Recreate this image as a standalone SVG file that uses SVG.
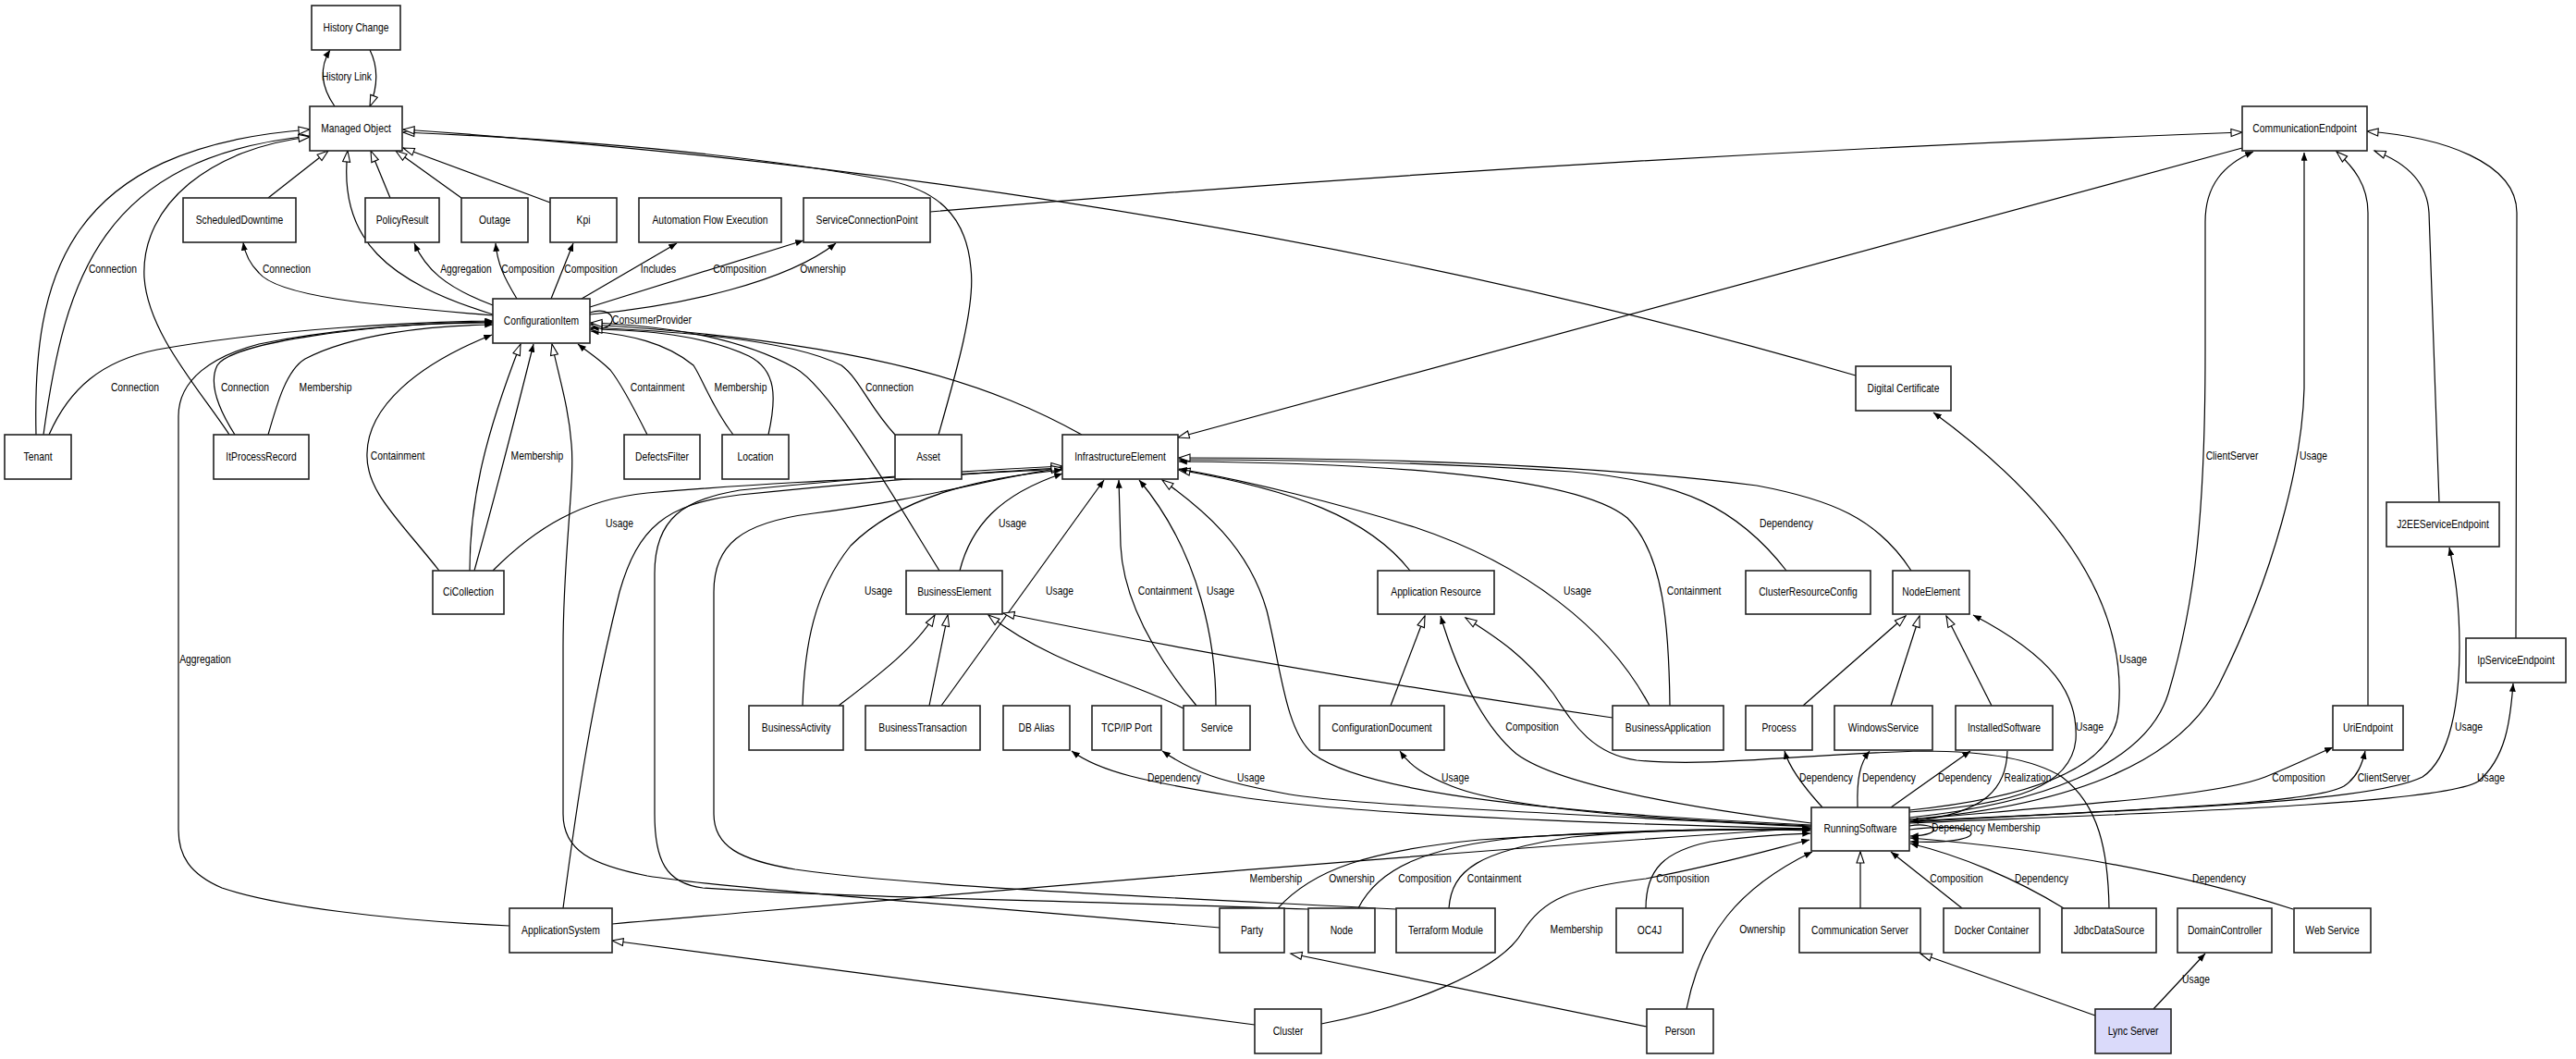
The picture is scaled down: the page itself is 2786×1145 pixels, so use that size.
<svg xmlns="http://www.w3.org/2000/svg" width="2786" height="1145" viewBox="0 0 2786 1145">
<style>
.e{fill:none;stroke:#000;stroke-width:1.2;marker-end:url(#af)}
.g{fill:none;stroke:#000;stroke-width:1.2;marker-end:url(#ah)}
.n rect{fill:#fff;stroke:#222;stroke-width:1.6}
.n.hl rect{fill:#dadafa}
text{font-family:"Liberation Sans",Arial,Helvetica,sans-serif;font-size:12px;text-anchor:middle;fill:#000;transform-box:fill-box;transform-origin:50% 50%;transform:scaleX(0.86)}
</style>
<defs>
<marker id="af" viewBox="0 0 10 8" refX="10" refY="4" markerWidth="9" markerHeight="7" markerUnits="userSpaceOnUse" orient="auto"><path d="M0,0 L10,4 L0,8 z" fill="#000"/></marker>
<marker id="ah" viewBox="0 0 14 10" refX="13" refY="5" markerWidth="14" markerHeight="10" markerUnits="userSpaceOnUse" orient="auto" overflow="visible"><path d="M1,1 L13,5 L1,9 z" fill="#fff" stroke="#000" stroke-width="1.1"/></marker>
</defs>
<rect width="2786" height="1145" fill="#fff"/>
<g id="edges">
<path class="e" d="M362,115 C348,95 344,75 357,54"/>
<path class="g" d="M400,54 C408,70 410,90 400,115"/>
<path class="g" d="M290,214 L355,163"/>
<path class="g" d="M533,340 C420,305 365,260 376,163"/>
<path class="g" d="M422,214 L401,163"/>
<path class="g" d="M499,214 L428,163"/>
<path class="g" d="M595,219 L436,160"/>
<path class="g" d="M39,470 C35,300 70,160 335,140"/>
<path class="e" d="M47,470 C70,300 110,170 335,147"/>
<path class="g" d="M248,470 C215,420 160,360 156,300 C152,220 230,160 335,148"/>
<path class="g" d="M1015,470 C1035,400 1055,330 1050,290 C1045,230 1010,205 960,195 C800,165 600,150 436,143"/>
<path class="g" d="M2007,406 Q1300,200 436,140"/>
<path class="g" d="M1006,229 Q1700,170 2425,143"/>
<path class="g" d="M2425,160 L1274,473"/>
<path class="e" d="M2065,884 C2200,870 2320,830 2345,750 C2375,650 2385,550 2385,380 L2385,240 C2385,200 2405,178 2437,164"/>
<path class="e" d="M2065,886 C2250,870 2360,820 2400,740 C2460,620 2490,500 2492,420 L2492,165"/>
<path class="g" d="M2561,763 L2561,230 C2561,200 2545,180 2527,164"/>
<path class="g" d="M2638,543 L2627,230 C2625,195 2600,175 2568,163"/>
<path class="g" d="M2721,690 L2722,230 C2722,175 2640,148 2560,142"/>
<path class="e" d="M533,341 C400,330 300,320 280,295 C270,285 265,275 263,262"/>
<path class="e" d="M533,330 C480,310 460,290 448,263"/>
<path class="e" d="M559,323 C545,300 538,285 536,263"/>
<path class="e" d="M596,323 L620,263"/>
<path class="e" d="M629,323 L732,263"/>
<path class="e" d="M638,332 L869,260"/>
<path class="e" d="M638,340 C740,330 850,305 904,263"/>
<path class="e" d="M638,338 C656,332 664,342 662,347 C660,354 650,357 639,355"/>
<path class="e" d="M53,470 C75,420 110,390 170,378 C300,355 450,348 533,347"/>
<path class="e" d="M254,470 C238,445 225,415 235,395 C250,370 400,350 533,348"/>
<path class="e" d="M290,470 C300,435 310,400 330,388 C380,362 460,352 533,351"/>
<path class="e" d="M551,1001 C420,995 300,980 240,960 C205,945 193,925 193,897 L193,450 C193,410 230,385 280,372 C380,352 470,349 533,349"/>
<path class="e" d="M475,617 C430,560 395,530 397,490 C398,440 450,395 532,362"/>
<path class="g" d="M508,617 C508,540 525,470 563,372"/>
<path class="e" d="M513,617 C540,520 560,440 577,372"/>
<path class="g" d="M1319,1003 C1000,975 780,960 700,947 C640,935 609,920 609,880 L609,700 C609,600 622,520 618,480 C615,440 605,410 597,372"/>
<path class="e" d="M700,470 C685,440 672,415 660,400 C648,388 635,380 625,372"/>
<path class="e" d="M793,470 C770,440 760,410 750,395 C720,370 680,362 639,358"/>
<path class="g" d="M831,470 C840,430 840,400 810,385 C760,362 700,357 639,356"/>
<path class="e" d="M968,470 C940,440 930,410 910,395 C850,365 720,358 639,354"/>
<path class="g" d="M1170,470 C1080,420 950,370 639,351"/>
<path class="g" d="M1016,617 C980,560 900,420 860,398 C800,365 720,352 639,349"/>
<path class="e" d="M533,617 C580,570 630,540 700,533 C850,520 1000,515 1149,507"/>
<path class="g" d="M609,982 C625,860 640,760 670,640 C690,570 720,545 800,535 C950,520 1060,510 1149,506"/>
<path class="g" d="M1415,983 C1200,975 900,970 760,960 C720,955 708,930 708,880 L708,620 C708,560 740,540 800,530 C950,515 1060,508 1149,504"/>
<path class="g" d="M1510,983 C1300,972 1000,960 860,940 C800,930 772,915 772,880 L772,640 C772,590 800,565 880,555 C1000,540 1080,515 1149,506"/>
<path class="e" d="M868,763 C870,700 880,640 920,590 C980,530 1080,515 1149,508"/>
<path class="e" d="M1038,617 C1050,570 1080,535 1149,512"/>
<path class="e" d="M1018,763 L1194,519"/>
<path class="e" d="M1294,763 C1250,710 1215,650 1212,590 L1210,519"/>
<path class="e" d="M1315,763 C1315,700 1300,600 1232,519"/>
<path class="g" d="M1959,892 C1700,880 1480,860 1420,815 C1390,790 1385,720 1370,660 C1350,590 1300,550 1257,519"/>
<path class="g" d="M1525,617 C1480,560 1400,530 1275,508"/>
<path class="e" d="M1784,763 C1740,680 1650,610 1530,570 C1450,545 1350,520 1275,507"/>
<path class="e" d="M1806,763 C1805,680 1800,600 1760,560 C1700,510 1450,500 1275,499"/>
<path class="e" d="M1932,617 C1880,550 1820,520 1700,510 C1550,500 1400,497 1275,497"/>
<path class="g" d="M2067,617 C2030,560 1980,540 1900,525 C1700,500 1450,495 1275,495"/>
<path class="g" d="M907,763 C950,730 990,700 1011,665"/>
<path class="g" d="M1005,763 L1025,665"/>
<path class="g" d="M1280,766 C1220,735 1140,720 1069,665"/>
<path class="g" d="M1744,776 Q1390,725 1085,663"/>
<path class="g" d="M1504,763 L1541,666"/>
<path class="e" d="M1959,890 C1800,870 1680,845 1640,815 C1610,790 1580,740 1558,666"/>
<path class="g" d="M2281,982 C2280,920 2270,870 2230,840 C2190,815 2120,812 2080,812 C1950,815 1850,830 1770,822 C1720,815 1700,780 1680,750 C1650,710 1620,690 1585,668"/>
<path class="g" d="M1950,763 L2061,666"/>
<path class="g" d="M2045,763 L2076,666"/>
<path class="g" d="M2154,763 L2105,666"/>
<path class="e" d="M2065,878 C2180,870 2240,850 2245,800 C2248,750 2220,710 2134,665"/>
<path class="e" d="M2065,876 C2200,862 2285,830 2291,770 C2300,680 2260,570 2091,446"/>
<path class="e" d="M2065,888 C2300,875 2560,870 2620,840 C2650,820 2660,760 2660,700 C2660,650 2655,620 2649,592"/>
<path class="e" d="M2065,890 C2300,880 2640,870 2680,845 C2710,820 2715,780 2718,739"/>
<path class="e" d="M2065,886 C2250,870 2400,860 2450,840 C2480,828 2500,818 2523,808"/>
<path class="e" d="M2065,889 C2300,875 2500,870 2535,850 C2550,840 2555,825 2558,812"/>
<path class="e" d="M1959,896 C1700,890 1450,880 1330,860 C1240,845 1190,835 1159,812"/>
<path class="e" d="M1959,894 C1700,880 1450,870 1390,858 C1320,845 1290,835 1257,812"/>
<path class="e" d="M1959,893 C1750,885 1620,870 1570,850 C1540,838 1525,828 1514,812"/>
<path class="e" d="M1971,873 C1950,850 1935,830 1930,812"/>
<path class="e" d="M2009,873 C2008,840 2012,825 2022,812"/>
<path class="e" d="M2045,873 L2131,812"/>
<path class="e" d="M2171,812 C2170,850 2150,880 2066,888"/>
<path class="e" d="M2065,893 C2095,888 2105,903 2066,904"/>
<path class="e" d="M2065,897 C2150,886 2158,914 2066,910"/>
<path class="e" d="M2480,983 Q2300,925 2066,906"/>
<path class="e" d="M2232,982 C2180,950 2120,925 2066,912"/>
<path class="e" d="M2122,982 L2045,921"/>
<path class="g" d="M2012,982 L2012,921"/>
<path class="e" d="M1824,1091 C1840,1010 1880,960 1960,921"/>
<path class="e" d="M1429,1107 C1520,1090 1620,1050 1645,1010 C1670,970 1700,960 1780,950 C1860,935 1910,920 1957,908"/>
<path class="e" d="M1780,982 C1780,940 1800,920 1850,910 C1900,903 1930,902 1958,901"/>
<path class="e" d="M1567,982 C1570,940 1600,920 1700,905 C1800,895 1900,896 1958,898"/>
<path class="e" d="M1469,982 C1490,940 1540,915 1650,905 C1800,895 1900,897 1958,897"/>
<path class="e" d="M1382,982 C1420,940 1480,920 1600,908 C1750,898 1880,897 1958,896"/>
<path class="e" d="M662,999 C1000,970 1500,925 1958,895"/>
<path class="g" d="M2266,1098 L2077,1031"/>
<path class="e" d="M2329,1091 L2385,1031"/>
<path class="g" d="M1357,1108 L662,1017"/>
<path class="g" d="M1781,1110 L1396,1031"/>
</g>
<g id="nodes">
<g id="history-change" class="n"><rect x="337" y="6" width="96" height="48"/><text x="385" y="34">History Change</text></g>
<g id="managed-object" class="n"><rect x="335" y="115" width="100" height="48"/><text x="385" y="143">Managed Object</text></g>
<g id="communication-endpoint" class="n"><rect x="2425" y="115" width="135" height="48"/><text x="2492.5" y="143">CommunicationEndpoint</text></g>
<g id="scheduled-downtime" class="n"><rect x="198" y="214" width="122" height="48"/><text x="259" y="242">ScheduledDowntime</text></g>
<g id="policy-result" class="n"><rect x="395" y="214" width="80" height="48"/><text x="435" y="242">PolicyResult</text></g>
<g id="outage" class="n"><rect x="499" y="214" width="72" height="48"/><text x="535" y="242">Outage</text></g>
<g id="kpi" class="n"><rect x="595" y="214" width="72" height="48"/><text x="631" y="242">Kpi</text></g>
<g id="automation-flow-execution" class="n"><rect x="691" y="214" width="154" height="48"/><text x="768" y="242">Automation Flow Execution</text></g>
<g id="service-connection-point" class="n"><rect x="869" y="214" width="137" height="48"/><text x="937.5" y="242">ServiceConnectionPoint</text></g>
<g id="configuration-item" class="n"><rect x="533" y="323" width="105" height="48"/><text x="585.5" y="351">ConfigurationItem</text></g>
<g id="digital-certificate" class="n"><rect x="2007" y="396" width="103" height="48"/><text x="2058.5" y="424">Digital Certificate</text></g>
<g id="tenant" class="n"><rect x="5" y="470" width="72" height="48"/><text x="41" y="498">Tenant</text></g>
<g id="it-process-record" class="n"><rect x="231" y="470" width="103" height="48"/><text x="282.5" y="498">ItProcessRecord</text></g>
<g id="defects-filter" class="n"><rect x="675" y="470" width="82" height="48"/><text x="716" y="498">DefectsFilter</text></g>
<g id="location" class="n"><rect x="781" y="470" width="72" height="48"/><text x="817" y="498">Location</text></g>
<g id="asset" class="n"><rect x="968" y="470" width="72" height="48"/><text x="1004" y="498">Asset</text></g>
<g id="infrastructure-element" class="n"><rect x="1149" y="470" width="125" height="48"/><text x="1211.5" y="498">InfrastructureElement</text></g>
<g id="j2ee-service-endpoint" class="n"><rect x="2581" y="543" width="122" height="48"/><text x="2642" y="571">J2EEServiceEndpoint</text></g>
<g id="ci-collection" class="n"><rect x="468" y="617" width="77" height="47"/><text x="506.5" y="644.5">CiCollection</text></g>
<g id="business-element" class="n"><rect x="980" y="617" width="104" height="47"/><text x="1032" y="644.5">BusinessElement</text></g>
<g id="application-resource" class="n"><rect x="1490" y="617" width="126" height="47"/><text x="1553" y="644.5">Application Resource</text></g>
<g id="cluster-resource-config" class="n"><rect x="1888" y="617" width="135" height="47"/><text x="1955.5" y="644.5">ClusterResourceConfig</text></g>
<g id="node-element" class="n"><rect x="2047" y="617" width="83" height="47"/><text x="2088.5" y="644.5">NodeElement</text></g>
<g id="ip-service-endpoint" class="n"><rect x="2667" y="690" width="108" height="48"/><text x="2721" y="718">IpServiceEndpoint</text></g>
<g id="business-activity" class="n"><rect x="810" y="763" width="102" height="48"/><text x="861" y="791">BusinessActivity</text></g>
<g id="business-transaction" class="n"><rect x="936" y="763" width="124" height="48"/><text x="998" y="791">BusinessTransaction</text></g>
<g id="db-alias" class="n"><rect x="1085" y="763" width="72" height="48"/><text x="1121" y="791">DB Alias</text></g>
<g id="tcp-ip-port" class="n"><rect x="1181" y="763" width="75" height="48"/><text x="1218.5" y="791">TCP/IP Port</text></g>
<g id="service" class="n"><rect x="1280" y="763" width="72" height="48"/><text x="1316" y="791">Service</text></g>
<g id="configuration-document" class="n"><rect x="1427" y="763" width="135" height="48"/><text x="1494.5" y="791">ConfigurationDocument</text></g>
<g id="business-application" class="n"><rect x="1744" y="763" width="120" height="48"/><text x="1804" y="791">BusinessApplication</text></g>
<g id="process" class="n"><rect x="1888" y="763" width="72" height="48"/><text x="1924" y="791">Process</text></g>
<g id="windows-service" class="n"><rect x="1984" y="763" width="106" height="48"/><text x="2037" y="791">WindowsService</text></g>
<g id="installed-software" class="n"><rect x="2115" y="763" width="105" height="48"/><text x="2167.5" y="791">InstalledSoftware</text></g>
<g id="uri-endpoint" class="n"><rect x="2523" y="763" width="76" height="48"/><text x="2561" y="791">UriEndpoint</text></g>
<g id="running-software" class="n"><rect x="1959" y="873" width="106" height="47"/><text x="2012" y="900.5">RunningSoftware</text></g>
<g id="application-system" class="n"><rect x="551" y="982" width="111" height="48"/><text x="606.5" y="1010">ApplicationSystem</text></g>
<g id="party" class="n"><rect x="1319" y="982" width="70" height="48"/><text x="1354" y="1010">Party</text></g>
<g id="node" class="n"><rect x="1415" y="982" width="72" height="48"/><text x="1451" y="1010">Node</text></g>
<g id="terraform-module" class="n"><rect x="1510" y="982" width="107" height="48"/><text x="1563.5" y="1010">Terraform Module</text></g>
<g id="oc4j" class="n"><rect x="1748" y="982" width="72" height="48"/><text x="1784" y="1010">OC4J</text></g>
<g id="communication-server" class="n"><rect x="1946" y="982" width="131" height="48"/><text x="2011.5" y="1010">Communication Server</text></g>
<g id="docker-container" class="n"><rect x="2102" y="982" width="104" height="48"/><text x="2154" y="1010">Docker Container</text></g>
<g id="jdbc-data-source" class="n"><rect x="2230" y="982" width="102" height="48"/><text x="2281" y="1010">JdbcDataSource</text></g>
<g id="domain-controller" class="n"><rect x="2355" y="982" width="102" height="48"/><text x="2406" y="1010">DomainController</text></g>
<g id="web-service" class="n"><rect x="2481" y="982" width="83" height="48"/><text x="2522.5" y="1010">Web Service</text></g>
<g id="cluster" class="n"><rect x="1357" y="1091" width="72" height="48"/><text x="1393" y="1119">Cluster</text></g>
<g id="person" class="n"><rect x="1781" y="1091" width="72" height="48"/><text x="1817" y="1119">Person</text></g>
<g id="lync-server" class="n hl"><rect x="2266" y="1091" width="82" height="48"/><text x="2307" y="1119">Lync Server</text></g>
</g>
<g id="edge-labels">
<text x="375" y="87">History Link</text>
<text x="122" y="295">Connection</text>
<text x="310" y="295">Connection</text>
<text x="504" y="295">Aggregation</text>
<text x="571" y="295">Composition</text>
<text x="639" y="295">Composition</text>
<text x="712" y="295">Includes</text>
<text x="800" y="295">Composition</text>
<text x="890" y="295">Ownership</text>
<text x="705" y="350">ConsumerProvider</text>
<text x="146" y="423">Connection</text>
<text x="265" y="423">Connection</text>
<text x="352" y="423">Membership</text>
<text x="711" y="423">Containment</text>
<text x="801" y="423">Membership</text>
<text x="962" y="423">Connection</text>
<text x="430" y="497">Containment</text>
<text x="581" y="497">Membership</text>
<text x="2414" y="497">ClientServer</text>
<text x="2502" y="497">Usage</text>
<text x="670" y="570">Usage</text>
<text x="1095" y="570">Usage</text>
<text x="1932" y="570">Dependency</text>
<text x="950" y="643">Usage</text>
<text x="1146" y="643">Usage</text>
<text x="1260" y="643">Containment</text>
<text x="1320" y="643">Usage</text>
<text x="1706" y="643">Usage</text>
<text x="1832" y="643">Containment</text>
<text x="222" y="717">Aggregation</text>
<text x="2307" y="717">Usage</text>
<text x="1657" y="790">Composition</text>
<text x="2260" y="790">Usage</text>
<text x="2670" y="790">Usage</text>
<text x="1270" y="845">Dependency</text>
<text x="1353" y="845">Usage</text>
<text x="1574" y="845">Usage</text>
<text x="1975" y="845">Dependency</text>
<text x="2043" y="845">Dependency</text>
<text x="2125" y="845">Dependency</text>
<text x="2193" y="845">Realization</text>
<text x="2486" y="845">Composition</text>
<text x="2578" y="845">ClientServer</text>
<text x="2694" y="845">Usage</text>
<text x="2118" y="899">Dependency</text>
<text x="2178" y="899">Membership</text>
<text x="1380" y="954">Membership</text>
<text x="1462" y="954">Ownership</text>
<text x="1541" y="954">Composition</text>
<text x="1616" y="954">Containment</text>
<text x="1820" y="954">Composition</text>
<text x="2116" y="954">Composition</text>
<text x="2208" y="954">Dependency</text>
<text x="2400" y="954">Dependency</text>
<text x="1705" y="1009">Membership</text>
<text x="1906" y="1009">Ownership</text>
<text x="2375" y="1063">Usage</text>
</g>
</svg>
